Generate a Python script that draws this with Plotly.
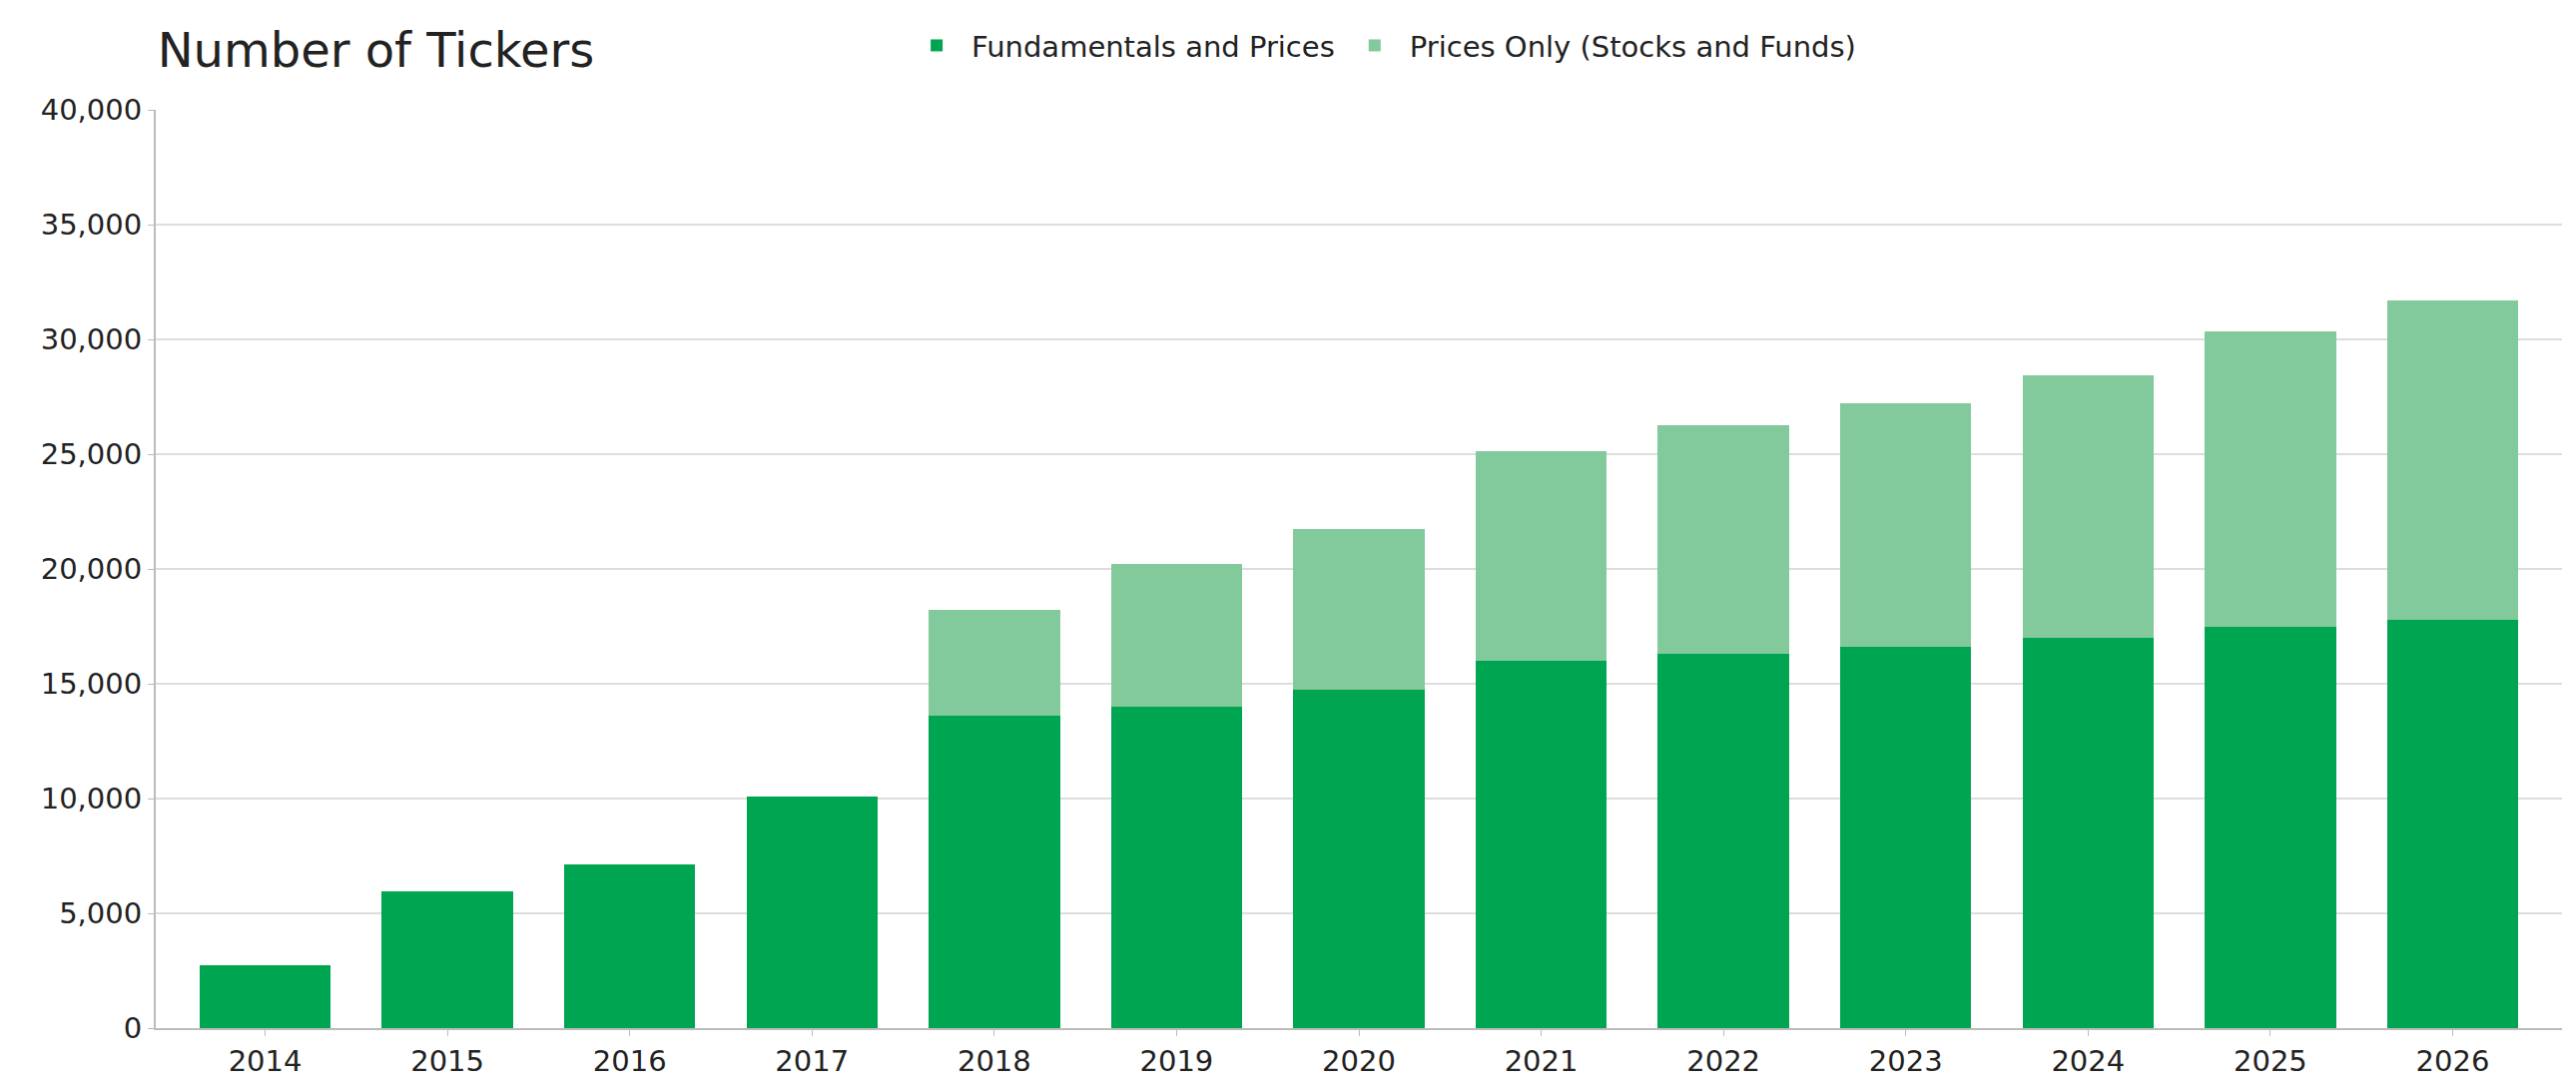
import plotly.graph_objects as go

years = ["2014","2015","2016","2017","2018","2019","2020","2021","2022","2023","2024","2025","2026"]
fundamentals = [2750, 5950, 7150, 10100, 13600, 14000, 14750, 16000, 16300, 16600, 17000, 17500, 17800]
totals = [2750, 5950, 7150, 10100, 18200, 20200, 21750, 25150, 26250, 27200, 28450, 30350, 31700]
prices_only = [t - f for t, f in zip(totals, fundamentals)]

fig = go.Figure()
fig.add_bar(x=years, y=fundamentals, name="Fundamentals and Prices", marker_color="#00A551", marker_line_width=0, width=0.72)
fig.add_bar(x=years, y=prices_only, name="Prices Only (Stocks and Funds)", marker_color="#82C99C", marker_line_width=0, width=0.72)

fig.update_layout(
    barmode="stack",
    width=2580, height=1093,
    paper_bgcolor="white", plot_bgcolor="white",
    font=dict(family="DejaVu Sans", size=29, color="#222"),
    margin=dict(l=148, r=22, t=102, b=71),
    title=dict(text="Number of Tickers", x=0.058, xanchor="left", y=0.977, yanchor="top",
               font=dict(size=48, color="#222")),
    legend=dict(orientation="h", x=0.31, xanchor="left", y=1.07, yanchor="middle",
                font=dict(size=29), itemwidth=60, traceorder="normal"),
    bargap=0.28,
    showlegend=True,
)
fig.update_yaxes(range=[0, 40000], dtick=5000, tickformat=",", showgrid=True, gridcolor="#DDDDDD",
                 gridwidth=2, showline=True, linecolor="#BBBBBB", linewidth=2, ticks="outside",
                 ticklen=6, tickcolor="#BBBBBB", zeroline=False)
fig.update_xaxes(showline=True, linecolor="#BBBBBB", linewidth=2, ticks="outside", ticklen=6,
                 tickcolor="#BBBBBB", range=[-0.6, 12.6])

fig.write_html("out.html")
